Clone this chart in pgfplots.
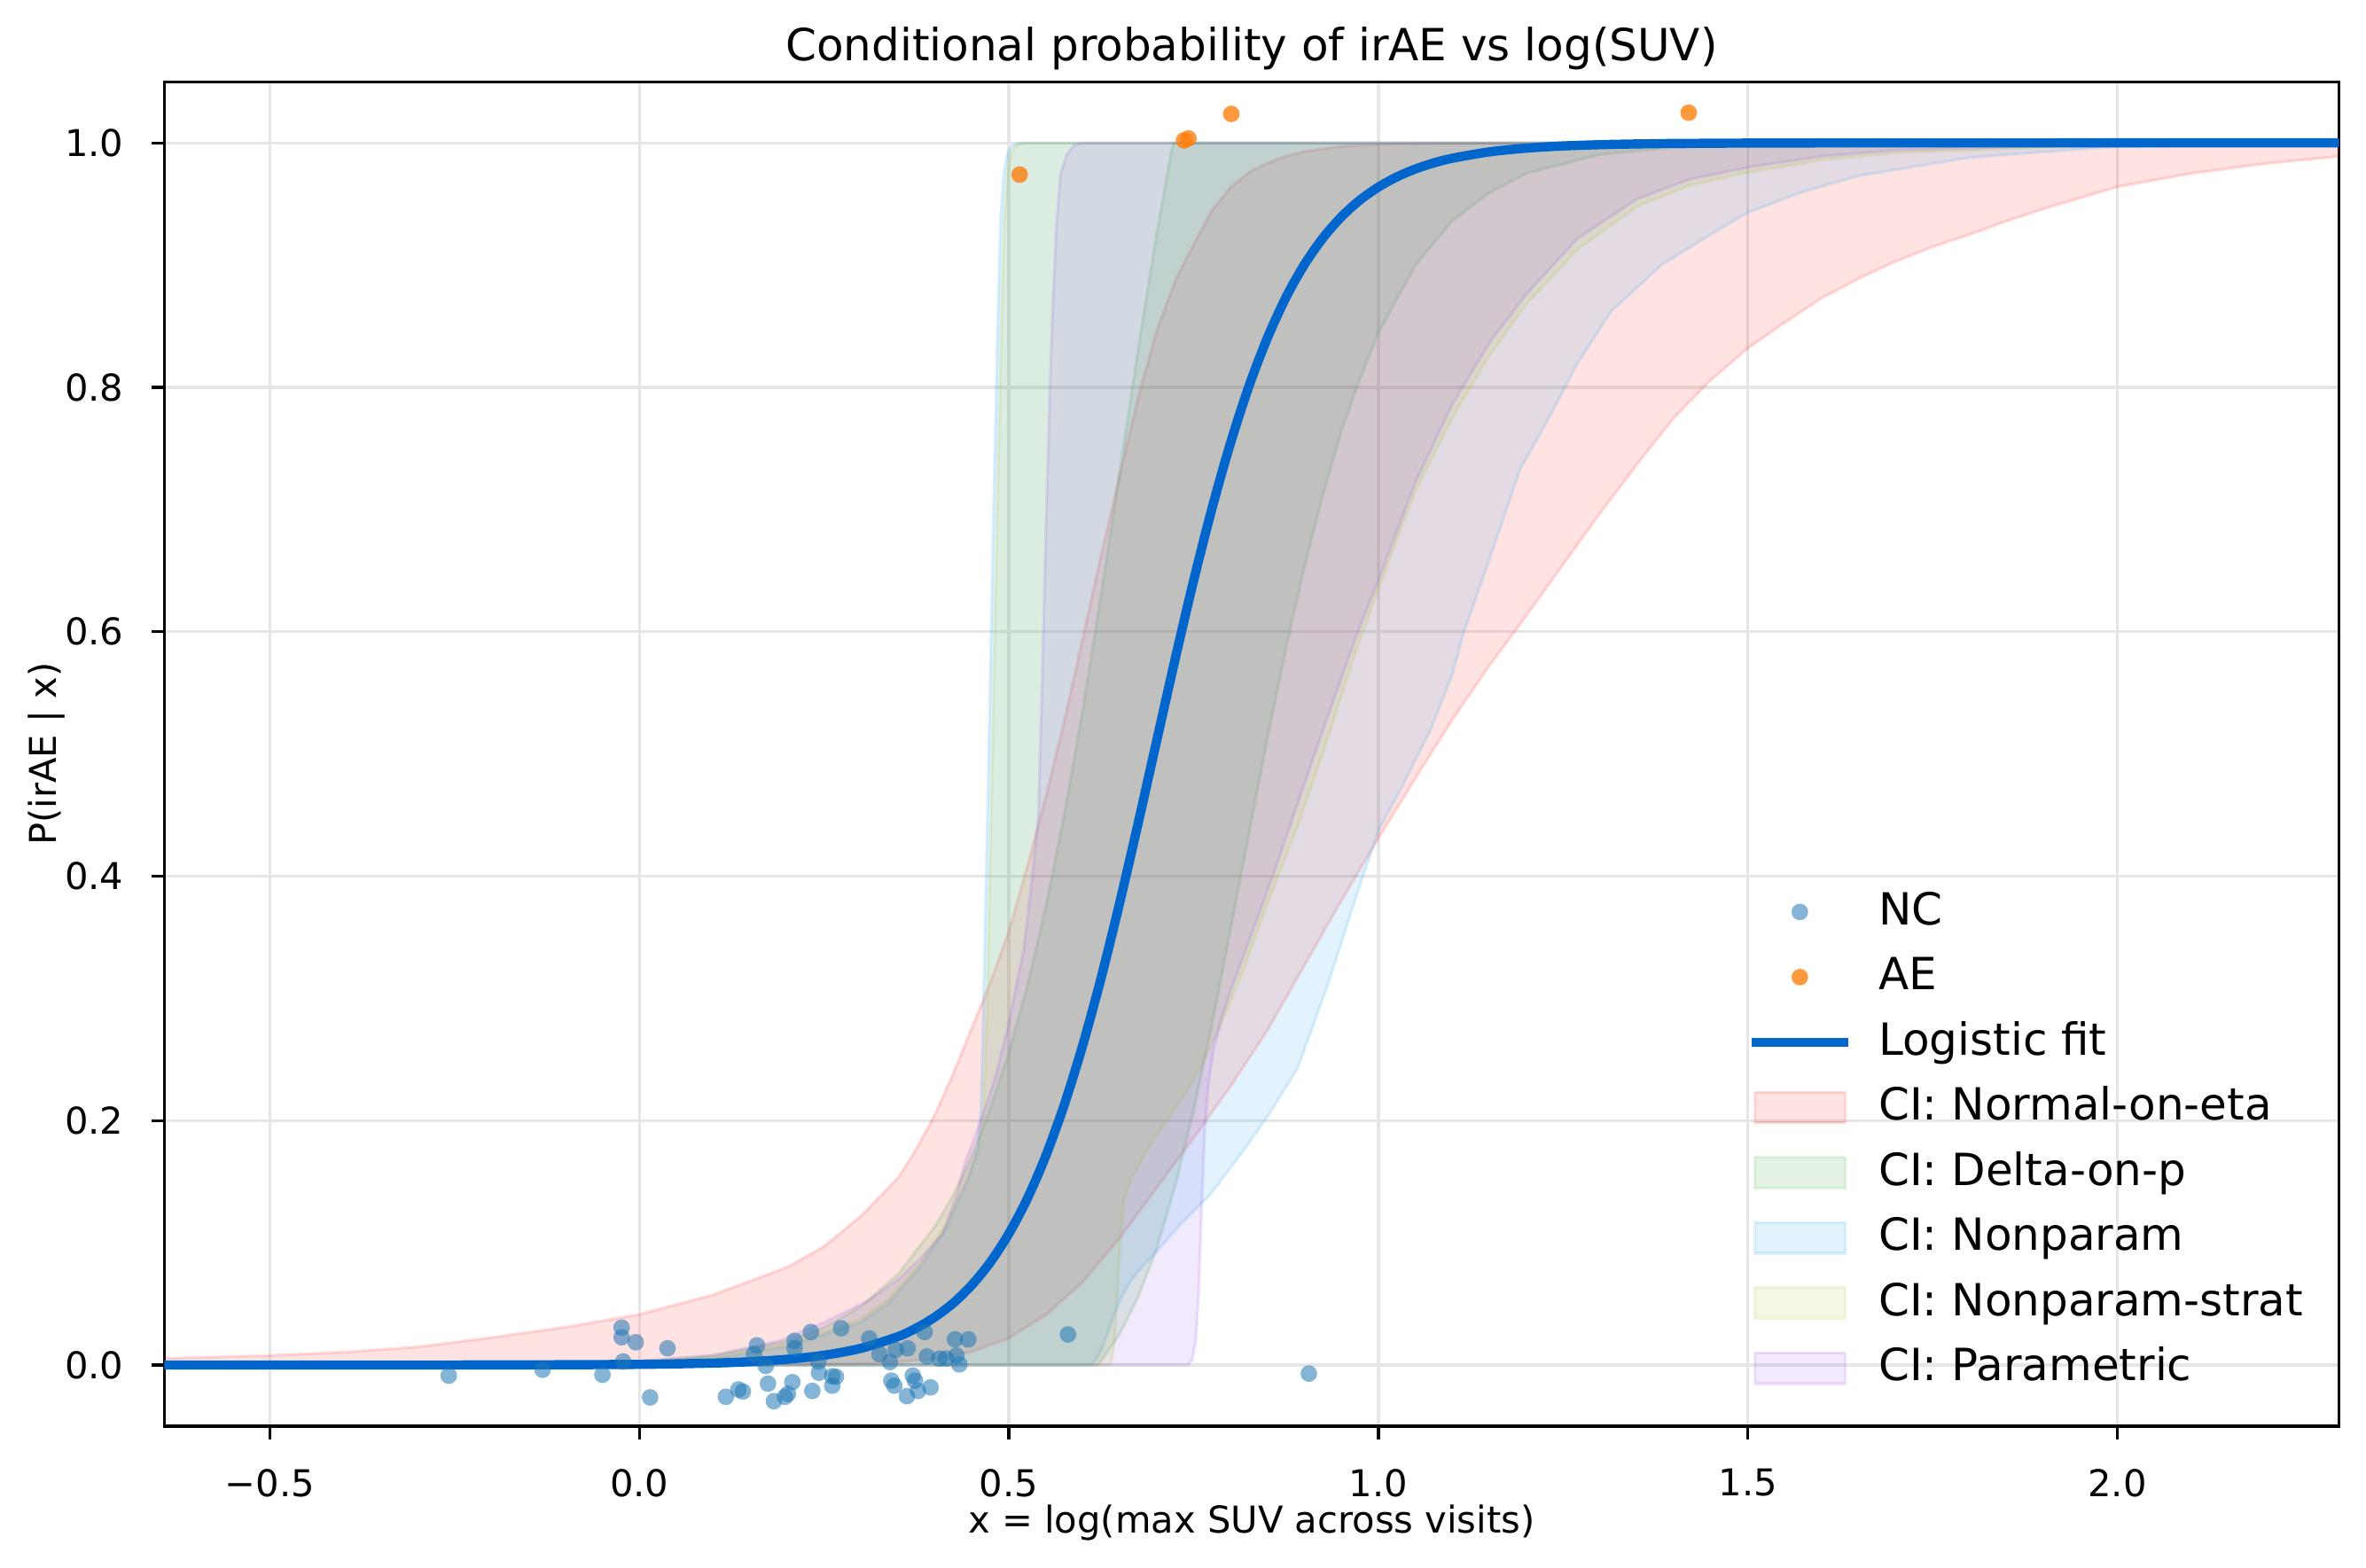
\documentclass[border=0pt]{standalone}
\usepackage{fontspec}
\setmainfont{DejaVu Sans}
\usepackage{pgfplots}
\pgfplotsset{compat=1.18}
\definecolor{fitblue}{RGB}{0,102,204}
\definecolor{ncblue}{RGB}{31,119,180}
\definecolor{aeorange}{RGB}{255,127,14}
\definecolor{cred}{RGB}{255,30,30}
\definecolor{cgreen}{RGB}{44,160,44}
\definecolor{csky}{RGB}{30,160,240}
\definecolor{colive}{RGB}{170,190,30}
\definecolor{cpurple}{RGB}{140,80,230}
\definecolor{gridgray}{RGB}{230,230,230}
\pgfplotsset{
 patchleg/.style={legend image code/.code={\draw[##1] (0pt,-4.15pt) rectangle (24.4pt,4.15pt);}},
 lineleg/.style={legend image code/.code={\draw[##1] (-0.8pt,0pt) -- (25.2pt,0pt);}},
 markleg/.style={legend image code/.code={\draw[mark repeat=2,mark phase=2,##1] plot coordinates {(0pt,0pt) (12.2pt,0pt) (24.4pt,0pt)};}},
 band/.style={fill=#1, draw=#1, fill opacity=0.125, draw opacity=0.15, line width=0.8pt, patchleg},
}
\begin{document}
\begin{tikzpicture}
\begin{axis}[
 scale only axis, width=588.77pt, height=364.0pt,
 xmin=-0.643, xmax=2.30, ymin=-0.05, ymax=1.05,
 xtick={-0.5,0,0.5,1,1.5,2}, xticklabels={−0.5,0.0,0.5,1.0,1.5,2.0},
 ytick={0,0.2,0.4,0.6,0.8,1}, yticklabels={0.0,0.2,0.4,0.6,0.8,1.0},
 tick align=outside, tick pos=left, major tick length=3.5pt,
 tick style={black, line width=0.8pt},
 axis line style={line width=0.8pt},
 grid=major, major grid style={line width=0.8pt, color=gridgray},
 ticklabel style={font=\fontsize{10}{12}\selectfont, inner sep=0pt},
 xticklabel style={anchor=north, yshift=-7.9pt},
 yticklabel style={anchor=east, xshift=-7.3pt},
 legend cell align=left,
 legend style={draw=none, fill=none, at={(0.7279,0.3984)}, anchor=north west,
   inner sep=0pt, outer sep=0pt, row sep=6.05pt, column sep=7.1pt,
   font=\fontsize{12}{14}\selectfont,
   nodes={inner sep=0pt, text height=9.2pt, text depth=2.4pt}},
]
% NC points
\addplot[only marks, mark=*, mark size=2.25pt, color=ncblue, mark options={fill opacity=0.55, draw opacity=0}, markleg] coordinates {
(-0.258,-0.0087) (-0.131,-0.0039) (-0.050,-0.008) (-0.024,0.0306) (-0.024,0.0227) (-0.005,0.0186) (-0.022,0.0029) (0.038,0.0137) (0.0145,-0.0265)
(0.117,-0.026) (0.134,-0.020) (0.140,-0.0217) (0.159,0.0161) (0.155,0.0089) (0.171,-0.0007) (0.174,-0.0152) (0.182,-0.0296) (0.197,-0.026) (0.201,-0.0236)
(0.207,-0.014) (0.210,0.0198) (0.210,0.0137) (0.232,0.027) (0.234,-0.0212) (0.242,0.0029) (0.243,-0.0063) (0.261,-0.0092) (0.266,-0.0096) (0.261,-0.0169)
(0.273,0.0301) (0.311,0.0217) (0.325,0.0089) (0.339,0.0024) (0.341,-0.0128) (0.345,-0.0169) (0.347,0.0125) (0.363,0.0137) (0.362,-0.0255) (0.370,-0.0087)
(0.373,-0.0128) (0.377,-0.0212) (0.386,0.027) (0.389,0.007) (0.394,-0.0183) (0.406,0.0053) (0.415,0.0053) (0.427,0.021) (0.429,0.0077) (0.445,0.021)
(0.433,0.0005) (0.580,0.025) (0.906,-0.007)
};
\addlegendentry{NC}
% AE points
\addplot[only marks, mark=*, mark size=2.25pt, color=aeorange, mark options={fill opacity=0.8, draw opacity=0}, markleg] coordinates {
(0.5146,0.974) (0.737,1.002) (0.743,1.0036) (0.801,1.0237) (1.420,1.0247)
};
\addlegendentry{AE}
\addlegendimage{color=fitblue, line width=2.5pt, lineleg}
\addlegendentry{Logistic fit}
% Normal-on-eta
\addplot[band=cred] coordinates {
(-0.643,0) (0.1,0.0001) (0.2,0.0003) (0.3,0.0011) (0.35,0.0025) (0.4,0.005) (0.45,0.011) (0.5,0.022) (0.55,0.041) (0.6,0.068) (0.65,0.104) (0.7,0.145)
(0.75,0.186) (0.8,0.228) (0.85,0.274) (0.9,0.327) (0.95,0.380) (1.0,0.431) (1.05,0.48) (1.1,0.528) (1.15,0.572) (1.2,0.613) (1.25,0.655) (1.3,0.697)
(1.35,0.737) (1.4,0.775) (1.45,0.806) (1.5,0.832) (1.55,0.853) (1.6,0.873) (1.65,0.889) (1.7,0.903) (1.75,0.915) (1.8,0.925) (1.85,0.936) (1.9,0.946) (2.0,0.964) (2.1,0.975) (2.2,0.983) (2.3,0.989)
(2.3,1) (1.3,1) (1.1,0.9998) (1.0,0.9988) (0.95,0.9972) (0.9,0.993) (0.875,0.989) (0.85,0.9834) (0.825,0.976) (0.8,0.9636) (0.775,0.945) (0.75,0.917)
(0.725,0.887) (0.7,0.846) (0.675,0.792) (0.65,0.728) (0.625,0.663) (0.6,0.5946) (0.575,0.527) (0.55,0.465) (0.525,0.408) (0.5,0.355) (0.475,0.313)
(0.45,0.276) (0.425,0.239) (0.4,0.205) (0.375,0.177) (0.35,0.153) (0.3,0.122) (0.25,0.097) (0.2,0.080) (0.1,0.0575) (0,0.0414) (-0.1,0.031) (-0.2,0.0225)
(-0.3,0.0148) (-0.4,0.0105) (-0.5,0.0078) (-0.643,0.0054)
} -- cycle;
\addlegendentry{CI: Normal-on-eta}
% Delta-on-p
\addplot[band=cgreen] coordinates {
(-0.643,0) (0.62,0) (0.625,0.0034) (0.65,0.0255) (0.675,0.0555) (0.7,0.0952) (0.725,0.1463) (0.75,0.2082) (0.775,0.2792) (0.8,0.3561) (0.825,0.4354)
(0.85,0.513) (0.875,0.5865) (0.9,0.6534) (0.925,0.712) (0.95,0.7642) (0.975,0.807) (1.0,0.8444) (1.05,0.8997) (1.1,0.9362) (1.15,0.959) (1.2,0.975) (1.3,0.9904) (1.4,0.9964) (1.6,0.9995) (2.3,1)
(2.3,1) (0.723,1) (0.72,0.9936) (0.7,0.9262) (0.675,0.8315) (0.65,0.7311) (0.625,0.6308) (0.6,0.5362) (0.575,0.4503) (0.55,0.375) (0.525,0.3103)
(0.5,0.2556) (0.475,0.2104) (0.45,0.1714) (0.425,0.1395) (0.4,0.1135) (0.35,0.0743) (0.3,0.048) (0.25,0.0308) (0.2,0.0196) (0.1,0.0078) (0,0.0030) (-0.2,0.0004) (-0.643,0)
} -- cycle;
\addlegendentry{CI: Delta-on-p}
% Nonparam
\addplot[band=csky] coordinates {
(-0.643,0) (0.612,0) (0.622,0.008) (0.632,0.023) (0.642,0.04) (0.652,0.055) (0.665,0.069) (0.68,0.08) (0.7,0.093) (0.732,0.115) (0.772,0.139)
(0.811,0.170) (0.851,0.204) (0.891,0.243) (0.931,0.31) (0.971,0.385) (1.0,0.437) (1.031,0.472) (1.071,0.52) (1.1,0.565) (1.116,0.60) (1.148,0.655)
(1.192,0.733) (1.231,0.775) (1.27,0.82) (1.315,0.862) (1.383,0.90) (1.45,0.925) (1.5,0.943) (1.575,0.96) (1.65,0.973) (1.8,0.988) (2.0,0.997) (2.3,1)
(2.3,1) (0.515,1) (0.505,0.998) (0.498,0.992) (0.493,0.975) (0.489,0.94) (0.486,0.88) (0.483,0.80) (0.48,0.72) (0.475,0.57) (0.47,0.42)
(0.465,0.28) (0.462,0.21) (0.458,0.178) (0.445,0.152) (0.416,0.113) (0.38,0.08) (0.336,0.05) (0.3,0.035) (0.27,0.029) (0.2,0.015) (0.1,0.005)
(0,0.002) (-0.3,0.0003) (-0.643,0)
} -- cycle;
\addlegendentry{CI: Nonparam}
% Nonparam-strat
\addplot[band=colive] coordinates {
(-0.643,0) (0.638,0) (0.643,0.02) (0.647,0.06) (0.651,0.105) (0.656,0.135) (0.665,0.152) (0.68,0.168) (0.7,0.188) (0.73,0.214) (0.76,0.244)
(0.79,0.283) (0.82,0.328) (0.85,0.378) (0.89,0.44) (0.93,0.51) (0.97,0.585) (1.0,0.635) (1.05,0.715) (1.1,0.775) (1.15,0.826) (1.2,0.868)
(1.27,0.913) (1.35,0.948) (1.42,0.965) (1.5,0.976) (1.6,0.986) (1.7,0.992) (2.0,0.998) (2.3,1)
(2.3,1) (0.52,1) (0.51,0.998) (0.503,0.992) (0.498,0.975) (0.494,0.94) (0.491,0.88) (0.488,0.80) (0.485,0.72) (0.48,0.57) (0.475,0.42)
(0.47,0.28) (0.466,0.21) (0.46,0.178) (0.445,0.155) (0.416,0.116) (0.38,0.083) (0.336,0.053) (0.3,0.038) (0.27,0.031) (0.2,0.017) (0.1,0.006)
(0,0.0025) (-0.3,0.0004) (-0.643,0)
} -- cycle;
\addlegendentry{CI: Nonparam-strat}
% Parametric
\addplot[band=cpurple] coordinates {
(-0.643,0) (0.742,0) (0.748,0.004) (0.753,0.02) (0.757,0.06) (0.761,0.13) (0.765,0.19) (0.77,0.23) (0.777,0.258) (0.787,0.282) (0.8,0.306)
(0.83,0.355) (0.86,0.405) (0.89,0.458) (0.93,0.528) (0.97,0.596) (1.0,0.642) (1.05,0.722) (1.1,0.786) (1.15,0.836) (1.2,0.876) (1.27,0.922)
(1.35,0.954) (1.42,0.970) (1.5,0.98) (1.6,0.989) (1.7,0.994) (2.0,0.999) (2.3,1)
(2.3,1) (0.6,1) (0.588,0.998) (0.578,0.99) (0.57,0.975) (0.564,0.93) (0.559,0.86) (0.555,0.79) (0.55,0.68) (0.545,0.56) (0.54,0.45) (0.53,0.39)
(0.52,0.34) (0.5,0.28) (0.48,0.232) (0.456,0.19) (0.44,0.165) (0.43,0.14) (0.41,0.107) (0.38,0.087) (0.35,0.07) (0.31,0.053) (0.25,0.035)
(0.19,0.02) (0.1,0.008) (0,0.003) (-0.3,0.0005) (-0.643,0)
} -- cycle;
\addlegendentry{CI: Parametric}
% Logistic fit
\addplot[color=fitblue, line width=2.5pt, forget plot, smooth, tension=0.5] coordinates {
(-0.643,0.0000005) (-0.4,0.0000072) (-0.2,0.000063) (0,0.000544) (0.1,0.0016) (0.15,0.00274) (0.2,0.00469) (0.25,0.00802) (0.3,0.01369) (0.35,0.02327)
(0.375,0.0303) (0.4,0.03928) (0.425,0.0508) (0.45,0.06556) (0.475,0.0842) (0.5,0.1075) (0.525,0.1362) (0.55,0.1712) (0.575,0.2130) (0.6,0.2618) (0.625,0.3171) (0.65,0.3783) (0.675,0.4435)
(0.7,0.5107) (0.725,0.5776) (0.75,0.6418) (0.775,0.7012) (0.8,0.7545) (0.825,0.8011) (0.85,0.8406) (0.875,0.8736) (0.9,0.9005) (0.925,0.9222) (0.95,0.9395) (0.975,0.9532)
(1.0,0.9638) (1.025,0.97216) (1.05,0.9786) (1.075,0.98358) (1.1,0.9874) (1.15,0.99262) (1.2,0.99569) (1.25,0.99749) (1.3,0.99853) (1.35,0.99914) (1.4,0.9995) (1.5,0.99983) (1.6,0.99994) (1.8,0.99999) (2.3,1.0)
};
\coordinate (bl) at (rel axis cs:0,0);
\coordinate (tr) at (rel axis cs:1,1);
\coordinate (tc) at (rel axis cs:0.5,1);
\coordinate (bc) at (rel axis cs:0.5,0);
\coordinate (lc) at (rel axis cs:0,0.5);
\end{axis}
\node[anchor=base, inner sep=0pt, font=\fontsize{12}{14}\selectfont] at ([yshift=5.8pt]tc) {Conditional probability of irAE vs log(SUV)};
\node[anchor=base, inner sep=0pt, font=\fontsize{10}{12}\selectfont] at ([yshift=-29pt]bc) {x = log(max SUV across visits)};
\node[anchor=base, rotate=90, inner sep=0pt, font=\fontsize{10}{12}\selectfont] at ([xshift=-29.2pt]lc) {P(irAE | x)};
\pgfresetboundingbox
\path ([shift={(-44.47pt,-38.4pt)}]bl) rectangle ([shift={(7.32pt,22.15pt)}]tr);
\end{tikzpicture}
\end{document}
